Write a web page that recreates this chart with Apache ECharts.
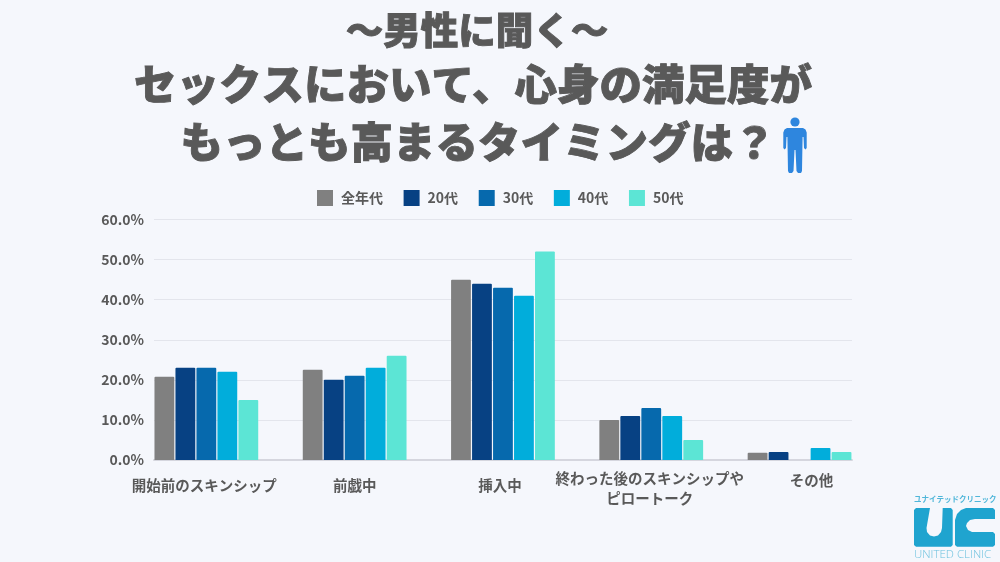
<!DOCTYPE html>
<html><head><meta charset="utf-8">
<style>html,body{margin:0;padding:0;background:#F5F7FC}#c{width:1000px;height:562px}</style>
<script src="https://cdn.jsdelivr.net/npm/echarts@6/dist/echarts.min.js"></script></head>
<body><div id="c"></div>
<script>
const titleLines = ['〜男性に聞く〜', 'セックスにおいて、心身の満足度が', 'もっとも高まるタイミングは？'];
const categories = ['開始前のスキンシップ', '前戯中', '挿入中', '終わった後のスキンシップや\nピロートーク', 'その他'];
const seriesNames = ['全年代', '20代', '30代', '40代', '50代'];
const colors = ['#808080', '#074183', '#0669AD', '#01ADDB', '#5CE5D5'];
const allAges = [20.8, 22.5, 45, 10, 1.8];
const s20 = [23, 20, 44, 11, 2];
const s30 = [23, 21, 43, 13, 0];
const s40 = [22, 23, 41, 11, 3];
const s50 = [15, 26, 52, 5, 2];
const values = [allAges, s20, s30, s40, s50];
const FF = '"Noto Sans CJK JP"';
const INK = '#595959';
const BLUE = '#2E86DE';
const TEAL = '#1FA4CF';
const chart = echarts.init(document.getElementById('c'), null, {renderer:'canvas'});
const catData = categories.map((c,i)=>({value:c, textStyle:{
  padding:[[7,4,0,0],[7,0,0,0],[7,6,0,0],[0,3,0,0],[2,0,0,24]][i]
}}));
const titleStyle = s => ({fontFamily:FF,fontSize:s,fontWeight:900,color:INK,textBorderColor:INK,textBorderWidth:0.9});
chart.setOption({
  backgroundColor:'#F5F7FC',
  animation:false,
  title:[
    {text:titleLines[0],left:472,top:6,textAlign:'center',textStyle:titleStyle(37.5)},
    {text:titleLines[1],left:468,top:58,textAlign:'center',textStyle:titleStyle(42.5)},
    {text:titleLines[2],left:473,top:116,textAlign:'center',textStyle:titleStyle(42.5)}
  ],
  legend:{data:seriesNames,top:190,left:317,padding:0,icon:'rect',itemWidth:16,itemHeight:16,itemGap:20.6,
    textStyle:{fontFamily:FF,fontSize:14,fontWeight:700,color:INK,padding:[0,0,0,3]}},
  grid:[
    {left:154,width:698,top:219.5,height:240.5},
    {left:132.2,width:741.5,top:219.5,height:240.5}
  ],
  xAxis:[
    {type:'category',gridIndex:0,data:categories,axisTick:{show:false},axisLabel:{show:false},
      axisLine:{lineStyle:{color:'#D5D6DE',width:2}}},
    {type:'category',gridIndex:1,data:catData,axisTick:{show:false},axisLine:{show:false},
      axisLabel:{interval:0,margin:8,lineHeight:20,fontFamily:FF,fontSize:14.5,fontWeight:700,color:INK}}
  ],
  yAxis:[
    {type:'value',gridIndex:0,min:0,max:60,interval:10,axisLine:{show:false},axisTick:{show:false},
      axisLabel:{formatter:v=>v.toFixed(1)+'%',margin:10,fontFamily:FF,fontSize:14,fontWeight:700,color:INK},
      splitLine:{lineStyle:{color:'#E3E5EC',width:1}}},
    {type:'value',gridIndex:1,min:0,max:60,interval:10,show:false}
  ],
  series:seriesNames.map((n,i)=>({
    type:'bar',name:n,xAxisIndex:1,yAxisIndex:1,data:values[i],barWidth:19.8,barGap:'6%',
    itemStyle:{color:colors[i],borderRadius:[1,1,0,0]}
  })),
  graphic:[
    {type:'circle',shape:{cx:795,cy:122,r:4.6},style:{fill:BLUE}},
    {type:'polygon',shape:{points:[[787,128],[803,128],[805.5,129.5],[806.7,132.5],[806.7,148],[805.5,149.5],[804,148],[803.5,137],[802.6,137],[802,171],[801,173],[798,173],[796.5,171],[795.5,150],[794.5,150],[793.5,171],[792,173],[789,173],[788,171],[787.4,137],[786.5,137],[786,148],[784.5,149.5],[783.3,148],[783.3,132.5],[784.5,129.5]]},style:{fill:BLUE}},
    {type:'text',x:914,y:495,style:{text:'ユナイテッドクリニック',fontFamily:FF,fontSize:7.5,fontWeight:700,fill:'#4FB6D9'}},
    {type:'polygon',shape:{points:[[916,508],[930,508],[926.5,528],[927,532],[930,535.5],[934,536.5],[938,535.5],[941,532],[942,528],[942.7,508],[951,508],[952.7,510],[952.7,545],[951,546.7],[916,546.7],[914,545],[914,510]]},style:{fill:TEAL}},
    {type:'polygon',shape:{points:[[966,508],[993,508],[995,510],[995,519],[975,519],[970,520],[967,523],[966,526],[968,530],[972,532],[993,532],[995,534],[995,545],[993,546.7],[957,546.7],[955,545],[955,520],[957,514],[961,510]]},style:{fill:TEAL}},
    {type:'text',x:914,y:548.5,style:{text:'UNITED CLINIC',fontFamily:'"Open Sans"',fontWeight:300,fontSize:11.5,fill:'#6CC1DE'}}
  ]
});
</script></body></html>
